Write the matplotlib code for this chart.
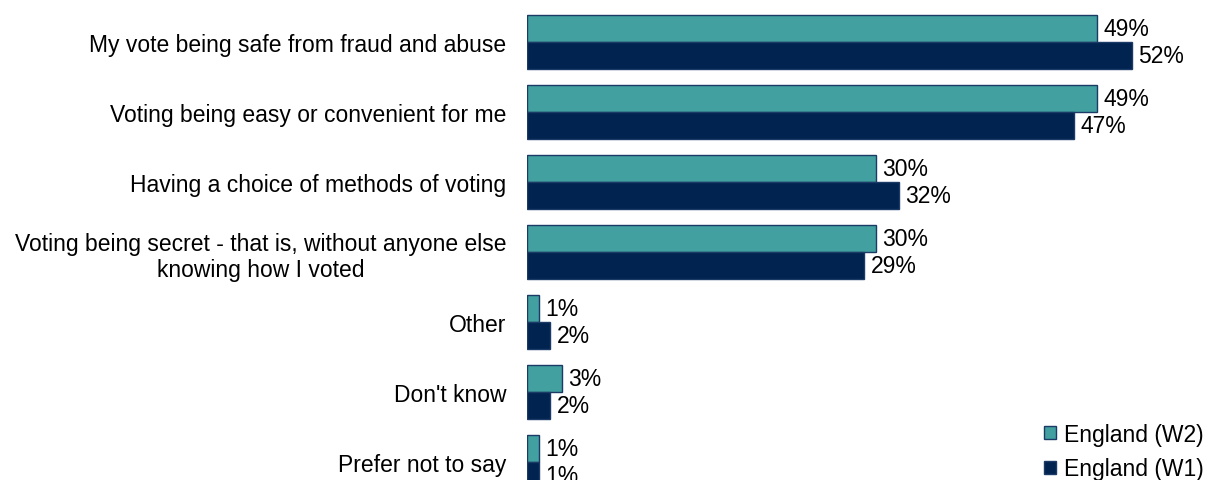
import matplotlib.pyplot as plt
from matplotlib.patches import Patch

plt.rcParams['font.family'] = ['Liberation Sans', 'DejaVu Sans']

categories = [
    "My vote being safe from fraud and abuse",
    "Voting being easy or convenient for me",
    "Having a choice of methods of voting",
    "Voting being secret - that is, without anyone else\nknowing how I voted",
    "Other",
    "Don't know",
    "Prefer not to say",
]
w2_values = [49, 49, 30, 30, 1, 3, 1]
w1_values = [52, 47, 32, 29, 2, 2, 1]
series_names = ["England (W2)", "England (W1)"]

teal = "#42A0A0"
navy = "#00234F"
edge = "#1B3B66"
fs = 16.5

fig = plt.figure(figsize=(12.08, 4.81), dpi=100)
ax = fig.add_axes([527 / 1208, 0, 1 - 527 / 1208, 1])

pos = list(range(len(categories)))
h = 0.39
ax.barh([p - h / 2 for p in pos], w2_values, height=h, color=teal,
        edgecolor=edge, linewidth=1)
ax.barh([p + h / 2 for p in pos], w1_values, height=h, color=navy,
        edgecolor=edge, linewidth=1)

# value labels just right of each bar
for p, v in zip(pos, w2_values):
    ax.text(v + 0.55, p - h / 2, f"{v}%", va="center", ha="left", fontsize=fs)
for p, v in zip(pos, w1_values):
    ax.text(v + 0.55, p + h / 2, f"{v}%", va="center", ha="left", fontsize=fs)

ax.set_xlim(0, (1208 - 527) / 11.63)
ax.set_ylim((481 - 43) / 70, -43 / 70)
ax.set_yticks(pos)
ax.set_yticklabels(categories, fontsize=fs, multialignment="center")
ax.tick_params(axis="y", length=0, pad=15)
ax.set_xticks([])
for s in ax.spines.values():
    s.set_visible(False)

handles = [Patch(facecolor=teal, edgecolor=edge, linewidth=1),
           Patch(facecolor=navy, edgecolor=edge, linewidth=1)]
fig.legend(handles, series_names, loc="lower right",
           bbox_to_anchor=(1.0, -0.01), frameon=False, fontsize=fs,
           handlelength=0.5, handleheight=0.5, handletextpad=0.35,
           labelspacing=0.5, borderaxespad=0.0, borderpad=0.2)

fig.savefig("out.png", dpi=100)
